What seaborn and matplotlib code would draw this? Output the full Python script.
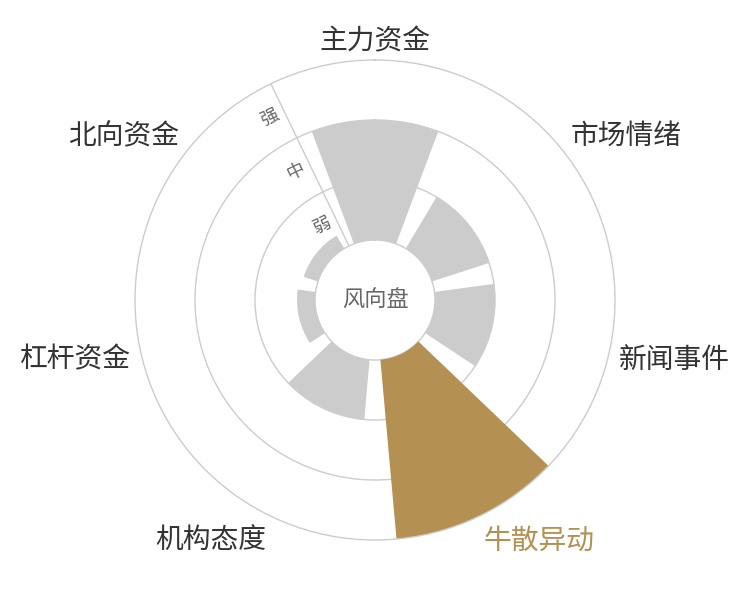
import numpy as np
import pandas as pd
import matplotlib.pyplot as plt
import seaborn as sns

# wind-rose style polar bars: one bar per signal source
categories = ['主力资金', '市场情绪', '新闻事件', '牛散异动', '机构态度', '杠杆资金', '北向资金']
strength = [2.0, 1.0, 1.0, 3.0, 1.0, 0.3, 0.25]
highlight = '牛散异动'
levels = ['弱', '中', '强']
center_text = '风向盘'

gray = '#cccccc'
gold = '#b59053'
grid_col = '#cccccc'

sns.set_theme(style='white')
plt.rcParams['font.family'] = ['Noto Sans CJK SC', 'DejaVu Sans']

n = len(categories)
step = 2 * np.pi / n
df = pd.DataFrame({'name': categories, 'value': strength})
df['theta'] = np.arange(n) * step

fig = plt.figure(figsize=(7.5, 6), dpi=100)
ax = fig.add_axes([0.18, 0.1, 0.64, 0.8], projection='polar')
ax.set_theta_zero_location('N')
ax.set_theta_direction(-1)

palette = {c: (gold if c == highlight else gray) for c in categories}
sns.barplot(data=df, x='theta', y='value', hue='name', palette=palette,
            native_scale=True, errorbar=None, width=0.8, dodge=False,
            saturation=1, legend=False, bottom=1, linewidth=0, ax=ax)

ax.set_xlim(0, 2 * np.pi)
ax.set_ylim(0, 4)
ax.set_xticks([])
ax.set_yticks([1, 2, 3])
ax.set_yticklabels([])
ax.yaxis.grid(True, color=grid_col, linewidth=1)
ax.xaxis.grid(False)
ax.spines['polar'].set_color(grid_col)
ax.spines['polar'].set_linewidth(1)
ax.set_xlabel('')
ax.set_ylabel('')

# radial axis line between the first and last slot
theta0 = -step / 2
ax.plot([theta0, theta0], [1, 4], color=grid_col, linewidth=1, zorder=3)

# ring names, shifted sideways off the axis line
off = 16 * np.array([-np.cos(theta0), np.sin(theta0)])
for i, lv in enumerate(levels):
    ax.annotate(lv, xy=(theta0, 1.5 + i), xytext=(off[0], off[1]),
                textcoords='offset pixels', ha='center', va='center',
                rotation=np.degrees(-theta0), rotation_mode='anchor',
                fontsize=13, color='#666666')

# category labels around the outside
for name, th in zip(df['name'], df['theta']):
    s, c = np.sin(th), np.cos(th)
    ha = 'center' if abs(s) < 0.1 else ('left' if s > 0 else 'right')
    if c > 0.5:
        va, dy = 'bottom', -7
    elif c < -0.5:
        va, dy = 'top', 0
    else:
        va, dy = 'center', -4
    ax.annotate(name, xy=(th, 4.17), xytext=(0, dy), textcoords='offset pixels',
                ha=ha, va=va, fontsize=20, annotation_clip=False,
                color=gold if name == highlight else '#333333')

ax.text(0, 0, center_text, ha='center', va='center', fontsize=16, color='#666666')

fig.savefig('out.png', dpi=100, facecolor='white')
